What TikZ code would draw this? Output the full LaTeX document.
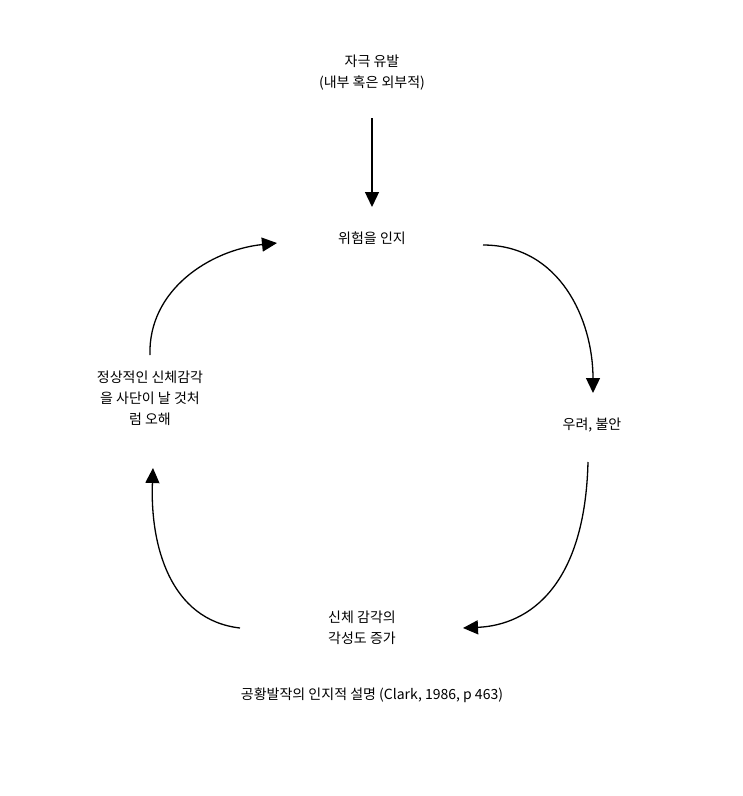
\documentclass[tikz,border=0pt]{standalone}
\usepackage{fontspec}
\setmainfont{Noto Sans CJK KR}
\usetikzlibrary{arrows.meta}
\tikzset{lbl/.style={align=center,font=\fontsize{14}{21}\selectfont,inner sep=0pt},
 conn/.style={line width=1.3pt,-{Triangle[length=15pt,width=14pt]}}}
\begin{document}
\begin{tikzpicture}[x=1pt,y=-1pt]
\useasboundingbox (0,0) rectangle (743,796);
\node[lbl] (stim) at (372,73) {자극 유발\\(내부 혹은 외부적)};
\node[lbl] (threat) at (372,238) {위험을 인지};
\node[lbl] (anx) at (592,425) {우려, 불안};
\node[lbl] (arous) at (362,628) {신체 감각의\\각성도 증가};
\node[lbl] (mis) at (150,398) {정상적인 신체감각\\을 사단이 날 것처\\럼 오해};
\node[lbl] (cap) at (372,695) {공황발작의 인지적 설명 (Clark, 1986, p 463)};
\coordinate (a1) at (372,118); \coordinate (a2) at (372,207);
\coordinate (b1) at (483,245); \coordinate (b2) at (593,393);
\coordinate (c1) at (588,462); \coordinate (c2) at (463,628);
\coordinate (d1) at (240,628); \coordinate (d2) at (153,468);
\coordinate (e1) at (150,355); \coordinate (e2) at (277,243);
\draw[conn] (a1) -- (a2);
\draw[conn] (b1) .. controls (560,245) and (593,320) .. (b2);
\draw[conn] (c1) .. controls (585,585) and (530,625) .. (c2);
\draw[conn] (d1) .. controls (170,620) and (150,545) .. (d2);
\draw[conn] (e1) .. controls (148,290) and (210,250) .. (e2);
\end{tikzpicture}
\end{document}
